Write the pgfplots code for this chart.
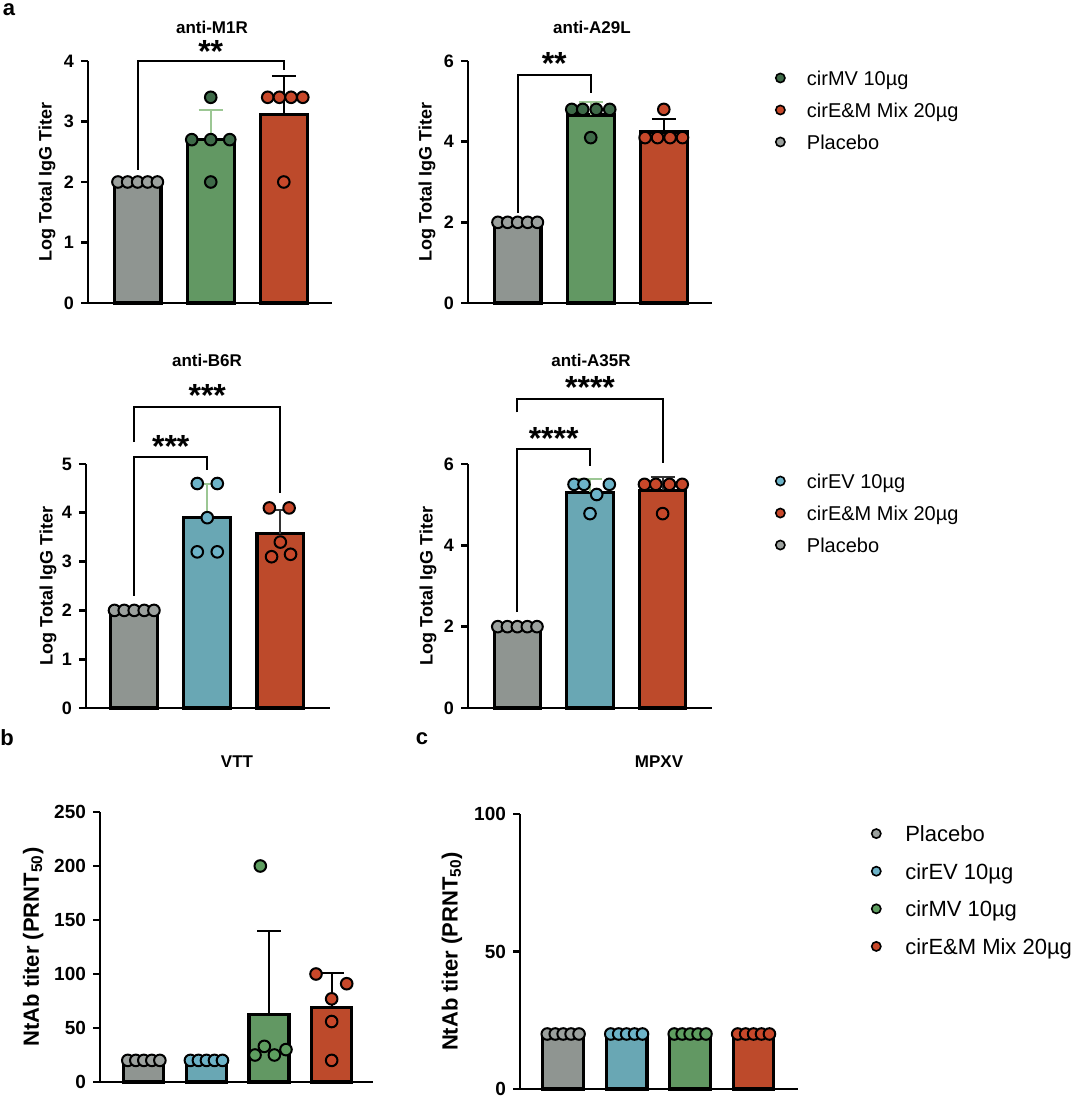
\documentclass[border=0pt]{standalone}
\usepackage{fontspec}
\setmainfont{Liberation Sans}
\usepackage{pgfplots}
\pgfplotsset{compat=1.18}
\newcommand\fs[1]{\fontsize{#1}{#1}\selectfont}
\definecolor{cgray}{HTML}{8F9591}
\definecolor{cgrayD}{HTML}{9CA19E}
\definecolor{cgreen}{HTML}{629863}
\definecolor{cgreenD}{HTML}{3E6A48}
\definecolor{cgreenL}{HTML}{5E9E60}
\definecolor{cred}{HTML}{BD4A2B}
\definecolor{credD}{HTML}{C8482A}
\definecolor{ccyan}{HTML}{69A7B4}
\definecolor{ccyanD}{HTML}{6DB3C8}
\definecolor{errg}{HTML}{9CC794}
\pgfplotsset{
  panel/.style={
    scale only axis, anchor=south west,
    axis x line=bottom, axis y line=left,
    axis line style={-, line width=1.4pt, black},
    every tick/.style={black, line width=1.4pt},
    major tick length=3.5pt, tick align=outside,
    xtick=\empty, ymin=0, clip=false,
    /pgf/number format/assume math mode=true,
    yticklabel style={font=\bfseries\fs{9}},
    ylabel style={font=\bfseries\fs{9}, anchor=center},
    title style={font=\bfseries\fs{8.5}, anchor=center, yshift=-6pt},
    legend image code/.code={\draw[##1] plot coordinates {(0pt,0pt)};},
    legend cell align=left,
  },
  bar/.style={ybar, bar shift=0pt, bar width=0.64, fill=#1, draw=black, line width=1.6pt, forget plot},
  dots/.style={only marks, mark=*, mark size=2.9pt, mark options={fill=#1, draw=black, line width=1pt}, forget plot},
  err/.style={draw=none, mark=none, forget plot, error bars/.cd, y dir=plus, y explicit,
    error mark=|,
    error bar style={draw=#1, line width=1pt},
    error mark options={draw=#1, line width=1pt, mark size=6pt}},
  leg/.style={only marks, mark=*, mark size=2.3pt, mark options={fill=#1, draw=black, line width=0.8pt}},
}
\begin{document}
\begin{tikzpicture}
\path[use as bounding box] (0,0) rectangle (540pt,550.5pt);
\node[font=\bfseries\fs{11}] at (4.5pt,545.5pt) {a};
\node[font=\bfseries\fs{11}] at (3.5pt,181.5pt) {b};
\node[font=\bfseries\fs{11}] at (211pt,181pt) {c};

% ---------- anti-M1R
\begin{axis}[panel, at={(44pt,399pt)}, width=122pt, height=121pt,
  ymax=4, xmin=-0.68, xmax=2.66, ytick={0,1,2,3,4},
  ylabel={Log Total IgG Titer}, ylabel style={at={(axis description cs:-0.168,0.5)}},
  title={anti-M1R}, title style={at={(axis description cs:0.508,1.14)}}]
\addplot[bar=cgray] coordinates {(0,2)};
\addplot[bar=cgreen] coordinates {(1,2.7)};
\addplot[bar=cred] coordinates {(2,3.12)};
\addplot[err=errg] coordinates {(1,2.7) +- (0,0.495)};
\addplot[err=black] coordinates {(2,3.12) +- (0,0.626)};
\addplot[dots=cgrayD] coordinates {(-0.27,2) (-0.137,2) (0,2) (0.137,2) (0.27,2)};
\addplot[dots=cgreenD] coordinates {(1,3.4) (0.74,2.7) (1,2.7) (1.26,2.7) (1,2.0)};
\addplot[dots=credD] coordinates {(1.78,3.4) (1.94,3.4) (2.10,3.4) (2.26,3.4) (2,2.0)};
\draw[line width=1pt] (axis cs:0,2.2) |- (axis cs:2,4) -- (axis cs:2,3.85);
\node[anchor=base, font=\bfseries\fs{16}] at (axis cs:1,3.97) {**};
\end{axis}

% ---------- anti-A29L
\begin{axis}[panel, at={(234pt,399pt)}, width=122pt, height=121pt,
  ymax=6, xmin=-0.68, xmax=2.66, ytick={0,2,4,6},
  ylabel={Log Total IgG Titer}, ylabel style={at={(axis description cs:-0.168,0.5)}},
  title={anti-A29L}, title style={at={(axis description cs:0.508,1.14)}},
  legend style={at={(axis description cs:1.235,0.7975)}, anchor=west, draw=none, fill=none,
    font=\fs{10}, row sep=8.8pt, column sep=11pt,
    nodes={inner sep=0pt, text height=7.2pt, text depth=0pt}}]
\addplot[bar=cgray] coordinates {(0,2)};
\addplot[bar=cgreen] coordinates {(1,4.66)};
\addplot[bar=cred] coordinates {(2,4.24)};
\addplot[err=errg] coordinates {(1,4.66) +- (0,0.313)};
\addplot[err=black] coordinates {(2,4.24) +- (0,0.313)};
\addplot[dots=cgrayD] coordinates {(-0.27,2) (-0.137,2) (0,2) (0.137,2) (0.27,2)};
\addplot[dots=cgreenD] coordinates {(0.74,4.8) (0.89,4.8) (1.075,4.8) (1.26,4.8) (1,4.1)};
\addplot[dots=credD] coordinates {(1.744,4.1) (1.914,4.1) (2.086,4.1) (2.256,4.1) (2,4.8)};
\draw[line width=1pt] (axis cs:0,2.23) |- (axis cs:1,5.66) -- (axis cs:1,5.2);
\node[anchor=base, font=\bfseries\fs{16}] at (axis cs:0.5,5.66) {**};
\addlegendimage{leg=cgreenD}\addlegendentry{cirMV 10µg}
\addlegendimage{leg=credD}\addlegendentry{cirE\&M Mix 20µg}
\addlegendimage{leg=cgrayD}\addlegendentry{Placebo}
\end{axis}

% ---------- anti-B6R
\begin{axis}[panel, at={(43pt,196.5pt)}, width=122pt, height=122pt,
  ymax=5, xmin=-0.66, xmax=2.68, ytick={0,1,2,3,4,5},
  ylabel={Log Total IgG Titer}, ylabel style={at={(axis description cs:-0.156,0.5)}},
  title={anti-B6R}, title style={at={(axis description cs:0.496,1.426)}}]
\addplot[bar=cgray] coordinates {(0,2)};
\addplot[bar=ccyan] coordinates {(1,3.9)};
\addplot[bar=cred] coordinates {(2,3.57)};
\addplot[err=errg] coordinates {(1,3.9) +- (0,0.7)};
\addplot[err=black!80] coordinates {(2,3.57) +- (0,0.497)};
\addplot[dots=cgrayD] coordinates {(-0.27,2) (-0.137,2) (0,2) (0.137,2) (0.27,2)};
\addplot[dots=ccyanD] coordinates {(0.863,4.6) (1.137,4.6) (1,3.9) (0.863,3.2) (1.137,3.2)};
\addplot[dots=credD] coordinates {(1.85,4.1) (2.12,4.1) (2,3.4) (1.88,3.1) (2.14,3.15)};
\draw[line width=1pt] (axis cs:0,5.45) |- (axis cs:2,6.17) -- (axis cs:2,4.4);
\draw[line width=1pt] (axis cs:0,2.3) |- (axis cs:1,5.14) -- (axis cs:1,4.88);
\node[anchor=base, font=\bfseries\fs{16}] at (axis cs:1,6.17) {***};
\node[anchor=base, font=\bfseries\fs{16}] at (axis cs:0.5,5.14) {***};
\end{axis}

% ---------- anti-A35R
\begin{axis}[panel, at={(234pt,196.5pt)}, width=122pt, height=122pt,
  ymax=6, xmin=-0.68, xmax=2.68, ytick={0,2,4,6},
  ylabel={Log Total IgG Titer}, ylabel style={at={(axis description cs:-0.164,0.5)}},
  title={anti-A35R}, title style={at={(axis description cs:0.504,1.426)}},
  legend style={at={(axis description cs:1.235,0.799)}, anchor=west, draw=none, fill=none,
    font=\fs{10}, row sep=8.8pt, column sep=11pt,
    nodes={inner sep=0pt, text height=7.2pt, text depth=0pt}}]
\addplot[bar=cgray] coordinates {(0,2)};
\addplot[bar=ccyan] coordinates {(1,5.306)};
\addplot[bar=cred] coordinates {(2,5.356)};
\addplot[err=errg] coordinates {(1,5.306) +- (0,0.313)};
\addplot[err=black!80] coordinates {(2,5.356) +- (0,0.322)};
\addplot[dots=cgrayD] coordinates {(-0.27,2) (-0.137,2) (0,2) (0.137,2) (0.27,2)};
\addplot[dots=ccyanD] coordinates {(0.78,5.5) (0.917,5.5) (1.266,5.5) (1.092,5.25) (1,4.78)};
\addplot[dots=credD] coordinates {(1.75,5.5) (1.906,5.5) (2.094,5.5) (2.27,5.5) (2,4.78)};
\draw[line width=1pt] (axis cs:0,7.27) |- (axis cs:2,7.6) -- (axis cs:2,6.02);
\draw[line width=1pt] (axis cs:0,2.36) |- (axis cs:1,6.36) -- (axis cs:1,5.95);
\node[anchor=base, font=\bfseries\fs{16}] at (axis cs:1,7.6) {****};
\node[anchor=base, font=\bfseries\fs{16}] at (axis cs:0.5,6.36) {****};
\addlegendimage{leg=ccyanD}\addlegendentry{cirEV 10µg}
\addlegendimage{leg=credD}\addlegendentry{cirE\&M Mix 20µg}
\addlegendimage{leg=cgrayD}\addlegendentry{Placebo}
\end{axis}

% ---------- VTT
\begin{axis}[panel, at={(50pt,9.5pt)}, width=136.5pt, height=135pt,
  ymax=250, xmin=-0.70, xmax=3.66, ytick={0,50,100,150,200,250},
  yticklabel style={font=\bfseries\fs{9.5}},
  ylabel={NtAb titer (PRNT\textsubscript{50})}, ylabel style={font=\bfseries\fs{11}, at={(axis description cs:-0.245,0.5)}},
  title={VTT}, title style={at={(axis description cs:0.502,1.185)}}]
\addplot[bar=cgray] coordinates {(0,20)};
\addplot[bar=ccyan] coordinates {(1,20)};
\addplot[bar=cgreen] coordinates {(2,62.6)};
\addplot[bar=cred] coordinates {(3,68.8)};
\addplot[err=black] coordinates {(2,62.6) +- (0,76.9)};
\addplot[err=black] coordinates {(3,68.8) +- (0,31.9)};
\addplot[dots=cgrayD] coordinates {(-0.256,20) (-0.128,20) (0,20) (0.128,20) (0.256,20)};
\addplot[dots=ccyanD] coordinates {(0.744,20) (0.872,20) (1,20) (1.128,20) (1.256,20)};
\addplot[dots=cgreenL] coordinates {(1.86,200) (1.776,25) (1.925,33) (2.085,25) (2.27,30)};
\addplot[dots=credD] coordinates {(2.75,100) (3.24,91) (3,77) (3,56) (3,20)};
\end{axis}

% ---------- MPXV
\begin{axis}[panel, at={(260pt,6pt)}, width=139pt, height=137.5pt,
  ymax=100, xmin=-0.68, xmax=3.70, ytick={0,50,100},
  yticklabel style={font=\bfseries\fs{9.5}},
  ylabel={NtAb titer (PRNT\textsubscript{50})}, ylabel style={font=\bfseries\fs{11}, at={(axis description cs:-0.245,0.5)}},
  title={MPXV}, title style={at={(axis description cs:0.5,1.189)}},
  legend style={at={(axis description cs:1.242,0.7236)}, anchor=west, draw=none, fill=none,
    font=\fs{11}, row sep=10.8pt, column sep=12.2pt,
    nodes={inner sep=0pt, text height=8pt, text depth=0pt}}]
\addplot[bar=cgray] coordinates {(0,20)};
\addplot[bar=ccyan] coordinates {(1,20)};
\addplot[bar=cgreen] coordinates {(2,20)};
\addplot[bar=cred] coordinates {(3,20)};
\addplot[dots=cgrayD] coordinates {(-0.25,20) (-0.125,20) (0,20) (0.125,20) (0.25,20)};
\addplot[dots=ccyanD] coordinates {(0.75,20) (0.875,20) (1,20) (1.125,20) (1.25,20)};
\addplot[dots=cgreenL] coordinates {(1.75,20) (1.875,20) (2,20) (2.125,20) (2.25,20)};
\addplot[dots=credD] coordinates {(2.75,20) (2.875,20) (3,20) (3.125,20) (3.25,20)};
\addlegendimage{leg=cgrayD}\addlegendentry{Placebo}
\addlegendimage{leg=ccyanD}\addlegendentry{cirEV 10µg}
\addlegendimage{leg=cgreenL}\addlegendentry{cirMV 10µg}
\addlegendimage{leg=credD}\addlegendentry{cirE\&M Mix 20µg}
\end{axis}
\end{tikzpicture}
\end{document}
